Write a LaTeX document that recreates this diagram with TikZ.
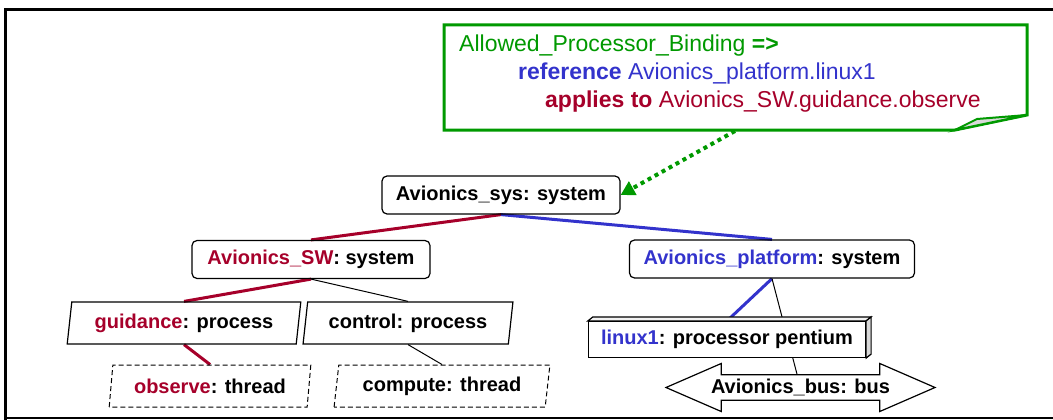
\documentclass[tikz,border=0pt]{standalone}
\usepackage{fontspec}
\setmainfont{Liberation Sans}
\usepackage{xcolor}
\usepackage{tikz}
\usetikzlibrary{shapes.geometric,shapes.arrows,arrows.meta,backgrounds}
\definecolor{swred}{RGB}{166,0,42}
\definecolor{hwblue}{RGB}{51,51,204}
\definecolor{notegreen}{RGB}{0,153,0}

\begin{document}
\begin{tikzpicture}[
  x=1pt, y=-1pt,
  font=\fontsize{20}{24}\selectfont\bfseries,
  sysbox/.style={draw, line width=1.2pt, rounded corners=5pt, inner sep=0pt, minimum height=38pt},
  procbox/.style={draw, line width=1.2pt, trapezium, trapezium left angle=79, trapezium right angle=101,
    trapezium stretches=true, inner sep=0pt, minimum height=42pt},
  thrbox/.style={procbox, line width=1pt, dash pattern=on 5pt off 3pt},
  cpubox/.style={draw, line width=1.2pt, fill=white, inner sep=0pt, minimum width=277pt, minimum height=36pt},
  busarrow/.style={draw, line width=1.2pt, fill=white, double arrow, double arrow tip angle=47,
    double arrow head extend=8pt, inner sep=0pt, minimum width=48pt, minimum height=269pt},
  notetext/.style={anchor=west, inner sep=0pt, font=\fontsize{23}{27}\selectfont\mdseries},
  swlink/.style={swred, line width=3pt},
  hwlink/.style={hwblue, line width=3pt},
  thin/.style={black, line width=1pt},
  bind/.style={notegreen, line width=4pt, dash pattern=on 4pt off 4pt,
    -{Triangle[length=14pt,width=15pt]}}
]
\useasboundingbox (0,0) rectangle (1053,420);

% frame
\draw[line width=3pt] (5.5,420) -- (5.5,9.5) -- (1053,9.5);
\draw[line width=2pt] (4,418) -- (1053,418);

% property note
\draw[notegreen, line width=3pt, fill=white, line join=miter]
  (444,25) -- (1027,25) -- (1027,115) -- (955,130) -- (444,130) -- cycle;
\draw[notegreen, line width=2pt, fill=gray!30] (955,130) -- (977,119) -- (1027,115) -- cycle;
\node[notetext, notegreen] (note1) at (459,46) {Allowed\_Processor\_Binding \textbf{=>}};
\node[notetext, hwblue] (note2) at (518,74) {\textbf{reference} Avionics\_platform.linux1};
\node[notetext, swred] (note3) at (545,102) {\textbf{applies to} Avionics\_SW.guidance.observe};
\coordinate (notetail) at (735,131);

% system hierarchy
\node[sysbox, minimum width=238pt] (sys) at (501,195) {Avionics\_sys: system};
\node[sysbox, minimum width=238pt] (sw) at (311,259.5) {{\color{swred}Avionics\_SW}: system};
\node[sysbox, minimum width=285pt] (plat) at (772,259) {{\color{hwblue}Avionics\_platform}: system};

\node[procbox, minimum width=234pt] (guid) at (184,323) {{\color{swred}guidance}: process};
\node[procbox, minimum width=210pt] (ctrl) at (408,323) {control: process};
\node[thrbox, minimum width=202pt] (obs) at (210,386) {{\color{swred}observe}: thread};
\node[thrbox, minimum width=216pt] (comp) at (442,386) {compute: thread};

\node[cpubox] (cpu) at (727,339.5) {{\color{hwblue}linux1}: processor pentium};
\draw[line width=1.2pt, fill=gray!10] (cpu.north west) -- ++(5,-4) -- ([shift={(5,-4)}]cpu.north east)
  -- (cpu.north east) -- cycle;
\draw[line width=1.2pt, fill=gray!30] (cpu.north east) -- ++(5,-4) -- ([shift={(5,-4)}]cpu.south east)
  -- (cpu.south east) -- cycle;

\node[busarrow] (bus) at (800.5,387.5) {Avionics\_bus: bus};

\begin{scope}[on background layer]
\draw[swlink] (sys.south) -- (sw.north);
\draw[hwlink] (sys.south) -- (plat.north);
\draw[swlink] (sw.south) -- (guid.north);
\draw[thin] (sw.south) -- (ctrl.north);
\draw[swlink] (guid.south) -- (obs.north);
\draw[thin] (ctrl.south) -- (comp.north);
\draw[hwlink] (plat.south) -- (cpu.north);
\draw[thin] (plat.south) -- (bus.center);
\end{scope}

\draw[bind] (notetail) -- (sys.east);

\end{tikzpicture}
\end{document}
